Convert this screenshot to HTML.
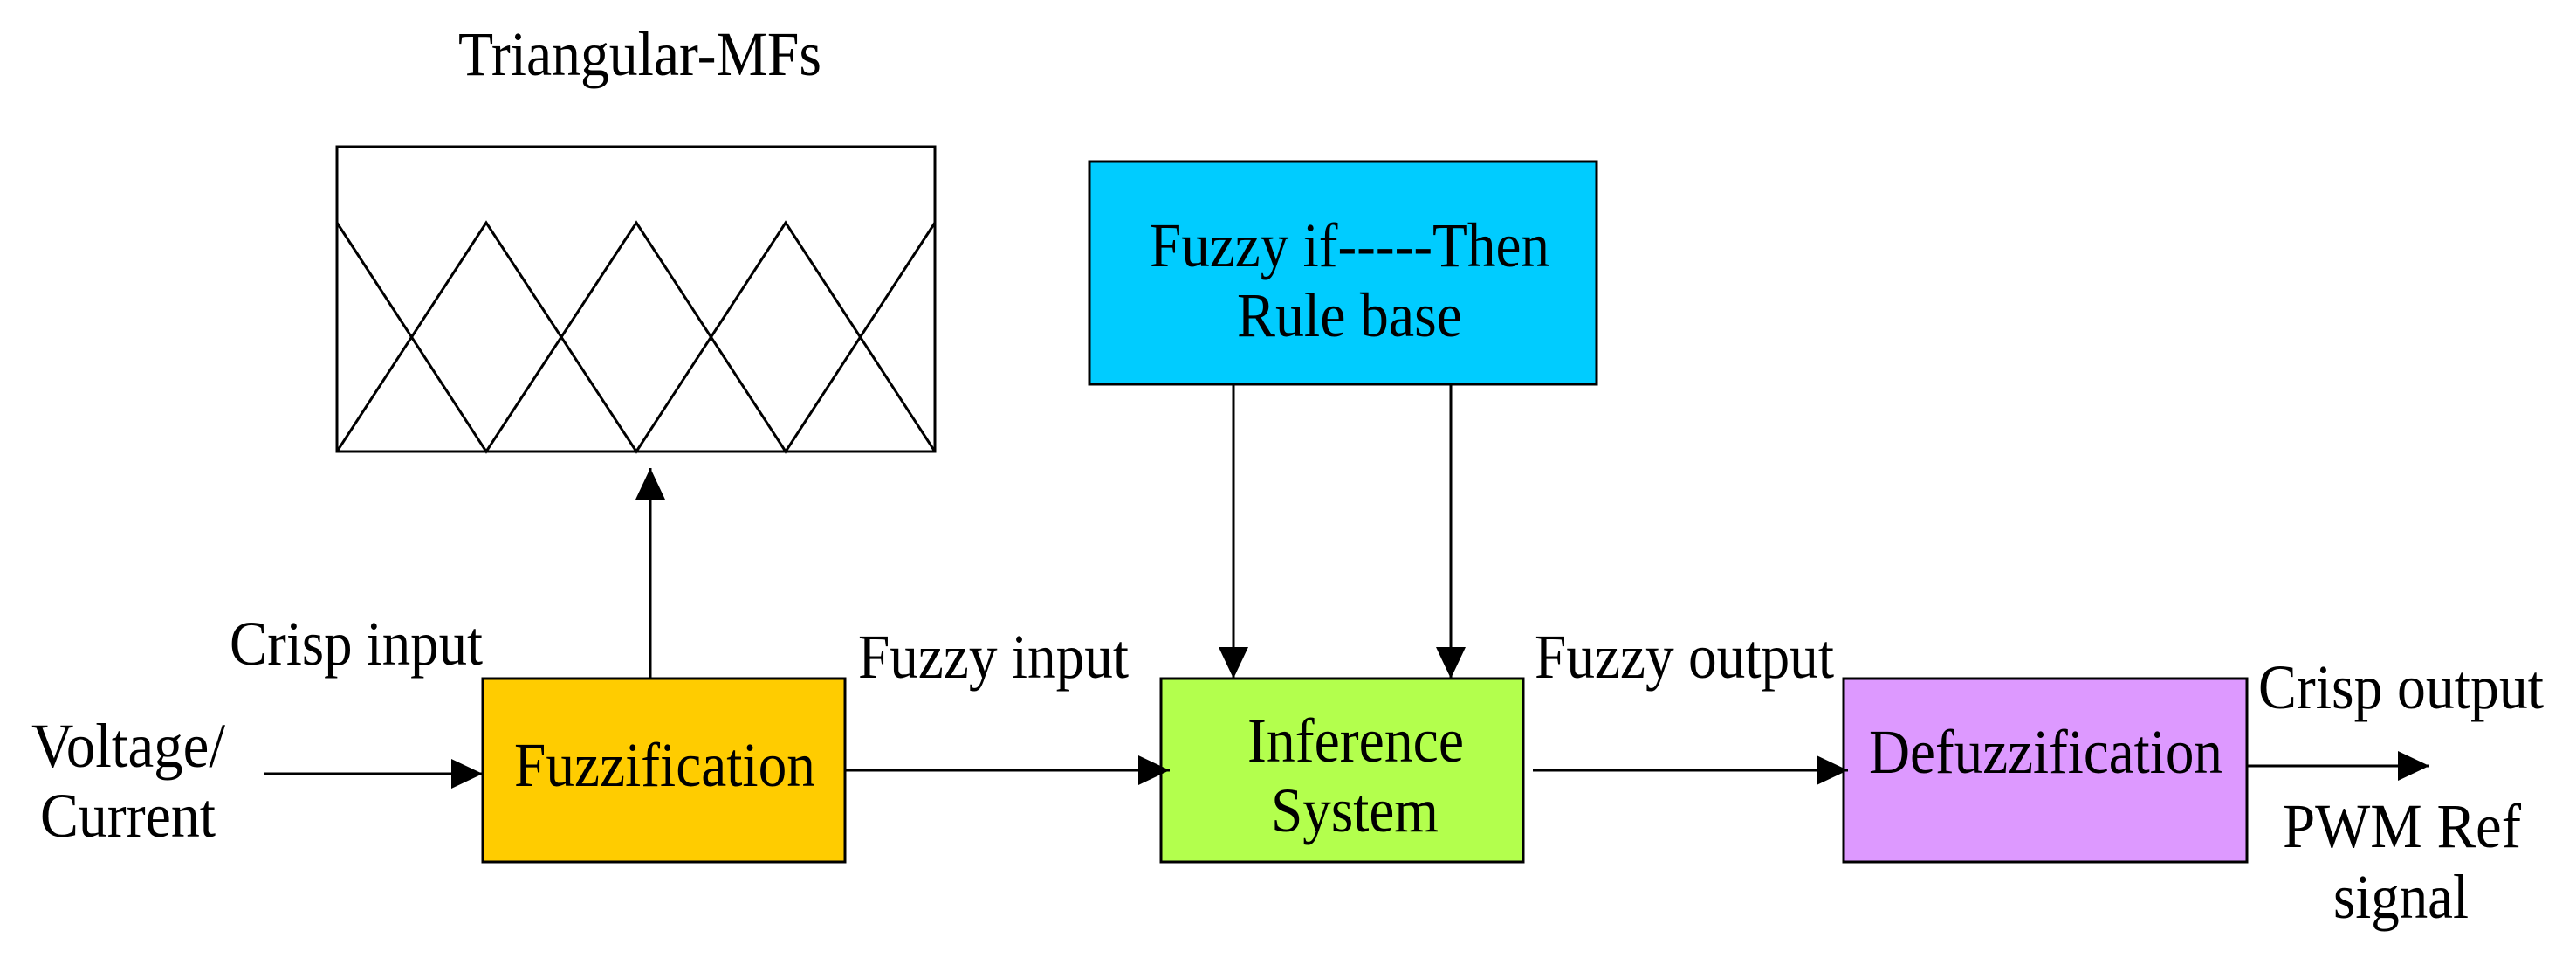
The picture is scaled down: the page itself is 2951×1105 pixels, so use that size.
<!DOCTYPE html>
<html><head><meta charset="utf-8"><style>html,body{margin:0;padding:0;background:#fff}svg{display:block}</style></head>
<body>
<svg width="2951" height="1105" viewBox="0 0 2951 1105" xmlns="http://www.w3.org/2000/svg" font-family="'Liberation Serif', serif" font-size="72" fill="#000">
<defs>
<marker id="a" markerWidth="40" markerHeight="34" refX="36" refY="17" orient="auto" markerUnits="userSpaceOnUse">
<path d="M0,0 L36,17 L0,34 Z" fill="#000"/>
</marker>
</defs>
<g stroke="#000" stroke-width="3">
<rect x="386" y="168" width="685" height="349" fill="#fff"/>
<polyline fill="none" points="386,255 557,517 729,255 900,517 1071,255"/>
<polyline fill="none" points="386,517 557,255 729,517 900,255 1071,517"/>
<rect x="1248" y="185" width="581" height="255" fill="#00CCFF"/>
<rect x="553" y="777" width="415" height="210" fill="#FFCC00"/>
<rect x="1330" y="777" width="415" height="210" fill="#B3FF4D"/>
<rect x="2112" y="777" width="462" height="210" fill="#DD99FF"/>
<line x1="745" y1="777" x2="745" y2="536" marker-end="url(#a)"/>
<line x1="1413" y1="440" x2="1413" y2="777" marker-end="url(#a)"/>
<line x1="1662" y1="440" x2="1662" y2="777" marker-end="url(#a)"/>
<line x1="303" y1="886" x2="553" y2="886" marker-end="url(#a)"/>
<line x1="968" y1="882" x2="1340" y2="882" marker-end="url(#a)"/>
<line x1="1756" y1="882" x2="2117" y2="882" marker-end="url(#a)"/>
<line x1="2574" y1="877" x2="2783" y2="877" marker-end="url(#a)"/>
</g>
<g lengthAdjust="spacingAndGlyphs">
<text x="525" y="86" textLength="416" lengthAdjust="spacingAndGlyphs">Triangular-MFs</text>
<text x="1317" y="305" textLength="458" lengthAdjust="spacingAndGlyphs">Fuzzy if-----Then</text>
<text x="1417" y="385" textLength="258" lengthAdjust="spacingAndGlyphs">Rule base</text>
<text x="589" y="900" textLength="345" lengthAdjust="spacingAndGlyphs">Fuzzification</text>
<text x="1429" y="872" textLength="248" lengthAdjust="spacingAndGlyphs">Inference</text>
<text x="1456" y="952" textLength="192" lengthAdjust="spacingAndGlyphs">System</text>
<text x="2141" y="885" textLength="405" lengthAdjust="spacingAndGlyphs">Defuzzification</text>
<text x="36" y="878" textLength="222" lengthAdjust="spacingAndGlyphs">Voltage/</text>
<text x="46" y="958" textLength="201" lengthAdjust="spacingAndGlyphs">Current</text>
<text x="263" y="761" textLength="290" lengthAdjust="spacingAndGlyphs">Crisp input</text>
<text x="983" y="776" textLength="310" lengthAdjust="spacingAndGlyphs">Fuzzy input</text>
<text x="1758" y="776" textLength="343" lengthAdjust="spacingAndGlyphs">Fuzzy output</text>
<text x="2587" y="811" textLength="327" lengthAdjust="spacingAndGlyphs">Crisp output</text>
<text x="2615" y="970" textLength="273" lengthAdjust="spacingAndGlyphs">PWM Ref</text>
<text x="2673" y="1051" textLength="155" lengthAdjust="spacingAndGlyphs">signal</text>
</g>
</svg>
</body></html>
